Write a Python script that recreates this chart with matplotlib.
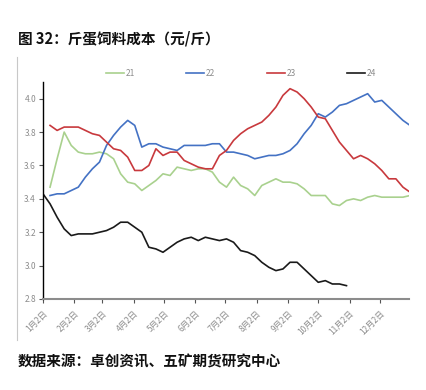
import matplotlib
matplotlib.use("Agg")
import matplotlib.pyplot as plt
import pandas as pd
from matplotlib.lines import Line2D

plt.rcParams['font.family'] = ['Noto Sans CJK SC', 'DejaVu Sans']

# weekly series (21/22/23 start one week after 24)
s21 = [3.47, 3.64, 3.80, 3.72, 3.68, 3.67, 3.67, 3.68, 3.67, 3.64, 3.55, 3.50, 3.49, 3.45,
       3.48, 3.51, 3.55, 3.54, 3.59, 3.58, 3.57, 3.58, 3.58, 3.56, 3.50, 3.47, 3.53, 3.48,
       3.46, 3.42, 3.48, 3.50, 3.52, 3.50, 3.50, 3.49, 3.46, 3.42, 3.42, 3.42, 3.37, 3.36,
       3.39, 3.40, 3.39, 3.41, 3.42, 3.41, 3.41, 3.41, 3.41, 3.42]
s22 = [3.42, 3.43, 3.43, 3.45, 3.47, 3.53, 3.58, 3.62, 3.72, 3.78, 3.83, 3.87, 3.84, 3.71,
       3.73, 3.73, 3.71, 3.70, 3.69, 3.72, 3.72, 3.72, 3.72, 3.73, 3.73, 3.68, 3.68, 3.67,
       3.66, 3.64, 3.65, 3.66, 3.66, 3.67, 3.69, 3.73, 3.79, 3.84, 3.91, 3.89, 3.92, 3.96,
       3.97, 3.99, 4.01, 4.03, 3.98, 3.99, 3.95, 3.91, 3.87, 3.84]
s23 = [3.84, 3.81, 3.83, 3.83, 3.83, 3.81, 3.79, 3.78, 3.74, 3.70, 3.69, 3.65, 3.57, 3.57,
       3.60, 3.70, 3.66, 3.68, 3.68, 3.63, 3.61, 3.59, 3.58, 3.58, 3.66, 3.69, 3.75, 3.79,
       3.82, 3.84, 3.86, 3.90, 3.95, 4.02, 4.06, 4.04, 4.00, 3.95, 3.89, 3.88, 3.81, 3.74,
       3.69, 3.64, 3.66, 3.64, 3.61, 3.57, 3.52, 3.52, 3.47, 3.44]
s24 = [3.43, 3.37, 3.29, 3.22, 3.18, 3.19, 3.19, 3.19, 3.20, 3.21, 3.23, 3.26, 3.26, 3.23,
       3.20, 3.11, 3.10, 3.08, 3.11, 3.14, 3.16, 3.17, 3.15, 3.17, 3.16, 3.15, 3.16, 3.14,
       3.09, 3.08, 3.06, 3.02, 2.99, 2.97, 2.98, 3.02, 3.02, 2.98, 2.94, 2.90, 2.91, 2.89,
       2.89, 2.88]
names = ['21', '22', '23', '24']
colors = ['#a9d18e', '#4472c4', '#c8393d', '#1a1a1a']
tick_labels = ['1月2日', '2月2日', '3月2日', '4月2日', '5月2日', '6月2日',
               '7月2日', '8月2日', '9月2日', '10月2日', '11月2日', '12月2日']
yticks = [2.8, 3.0, 3.2, 3.4, 3.6, 3.8, 4.0]

d_main = pd.date_range('2023-01-09', periods=len(s21), freq='7D')
d_24 = pd.date_range('2023-01-02', periods=len(s24), freq='7D')

W, H = 427, 390
fig = plt.figure(figsize=(W/100, H/100), dpi=100)
ax = fig.add_axes([43/W, 1-299/H, (409-43)/W, (299-82)/H])

for s, d, c in zip([s21, s22, s23, s24], [d_main, d_main, d_main, d_24], colors):
    ax.plot(d, s, color=c, lw=1.2, solid_joinstyle='round')

ax.set_ylim(2.8, 4.1)
ax.set_xlim(pd.Timestamp('2023-01-02'), pd.Timestamp('2023-12-31'))
ax.set_yticks(yticks)
ax.set_yticklabels([f'{v:.1f}' for v in yticks])
tick_dates = [pd.Timestamp(2023, m, 2) for m in range(1, 13)]
ax.set_xticks(tick_dates)
ax.set_xticklabels(tick_labels, rotation=45, ha='right', va='top', rotation_mode='anchor')

for sp in ['top', 'right']:
    ax.spines[sp].set_visible(False)
ax.spines['left'].set_color('#000000')
ax.spines['left'].set_linewidth(1.0)
ax.spines['bottom'].set_color('#8c8c8c')
ax.spines['bottom'].set_linewidth(1.5)
ax.tick_params(axis='y', length=3, width=0.8, color='#555555', labelsize=6, labelcolor='#8c8c8c', pad=2)
ax.tick_params(axis='x', length=3, width=0.8, color='#555555', labelsize=6, labelcolor='#8c8c8c', pad=4)

# legend drawn manually at reference positions
leg_x = [106, 186, 267, 347]
leg_y = 1 - 73/H
for lx, c, n in zip(leg_x, colors, names):
    fig.add_artist(Line2D([lx/W, (lx+18)/W], [leg_y, leg_y], color=c, lw=1.2))
    fig.text((lx+20)/W, leg_y, n, fontsize=6, color='#8c8c8c', ha='left', va='center')

fig.text(18/W, 1-38/H, '图 32：斤蛋饲料成本（元/斤）', fontsize=10.5, fontweight='bold',
         ha='left', va='center', color='#111111')
fig.text(18/W, 1-362/H, '数据来源：卓创资讯、五矿期货研究中心', fontsize=10.5, fontweight='bold',
         ha='left', va='center', color='#111111')
fig.add_artist(Line2D([16.5/W, 16.5/W], [1-57/H, 1-340/H], color='#c8c8c8', lw=0.8))

fig.savefig('out.png', dpi=100)
